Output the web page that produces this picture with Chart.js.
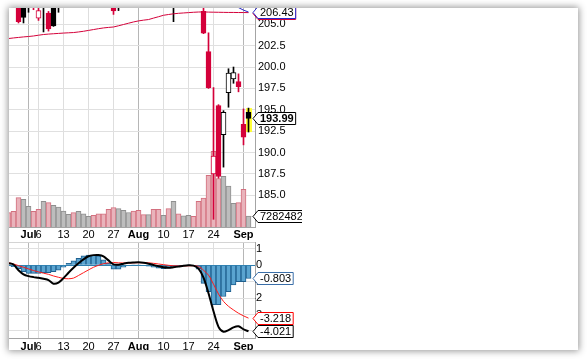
<!DOCTYPE html>
<html>
<head>
<meta charset="utf-8">
<title>SPY daily</title>
<script src="https://cdn.jsdelivr.net/npm/chart.js@4.4.1/dist/chart.umd.min.js"></script>
<style>
html, body { margin: 0; padding: 0; width: 587px; height: 359px; background: #fff; overflow: hidden; }
#panel { position: absolute; left: 9px; top: 8px; width: 569px; height: 342px; background: #fff; overflow: hidden;
  box-shadow: 0 0 7px 1px rgba(0, 0, 0, 0.42); }
#priceChart { position: absolute; left: 0; top: 0; }
#macdChart { position: absolute; left: 0; top: 234px; }
</style>
</head>
<body>
<div id="panel">
  <canvas id="priceChart" width="293" height="234"></canvas>
  <canvas id="macdChart" width="293" height="108"></canvas>
</div>
<script>
// trading days shown
var days = ['Jun 24', 'Jun 25', 'Jun 26', 'Jun 29', 'Jun 30', 'Jul 1', 'Jul 2', 'Jul 6', 'Jul 7', 'Jul 8',
    'Jul 9', 'Jul 10', 'Jul 13', 'Jul 14', 'Jul 15', 'Jul 16', 'Jul 17', 'Jul 20', 'Jul 21', 'Jul 22',
    'Jul 23', 'Jul 24', 'Jul 27', 'Jul 28', 'Jul 29', 'Jul 30', 'Jul 31', 'Aug 3', 'Aug 4', 'Aug 5',
    'Aug 6', 'Aug 7', 'Aug 10', 'Aug 11', 'Aug 12', 'Aug 13', 'Aug 14', 'Aug 17', 'Aug 18', 'Aug 19',
    'Aug 20', 'Aug 21', 'Aug 24', 'Aug 25', 'Aug 26', 'Aug 27', 'Aug 28', 'Aug 31', 'Sep 1', 'Sep 2'];

var tickDays = ['Jul 1', 'Jul 6', 'Jul 13', 'Jul 20', 'Jul 27', 'Aug 3', 'Aug 10', 'Aug 17', 'Aug 24', 'Sep 1'];
var tickText = ['Jul', '6', '13', '20', '27', 'Aug', '10', '17', '24', 'Sep'];

var opens = [208.3, 208.0, 207.6, 208.1, 207.9, 207.7, 207.6, 205.7, 207.0, 206.3,
    207.2, 207.3, 208.5, 209.8, 210.7, 211.6, 212.4, 212.9, 212.2, 211.1,
    211.3, 210.1, 207.5, 207.1, 209.1, 210.2, 211.2, 210.6, 209.6, 210.3,
    210.3, 208.2, 209.3, 209.0, 207.1, 208.7, 208.4, 208.7, 210.3, 209.1,
    206.5, 201.8, 187.5, 195.5, 192.1, 197.0, 198.6, 198.3, 193.3, 194.7];
var highs = [208.6, 208.3, 207.9, 209.8, 208.0, 208.2, 207.9, 207.1, 208.2, 206.5,
    207.3, 208.5, 209.9, 210.9, 211.3, 212.4, 212.6, 213.0, 212.4, 212.1,
    211.6, 210.3, 207.8, 209.3, 210.9, 211.2, 211.4, 210.8, 210.3, 211.3,
    210.4, 208.3, 210.7, 209.5, 209.0, 209.5, 209.5, 210.6, 210.7, 210.0,
    208.3, 204.0, 197.6, 195.6, 194.9, 199.8, 200.0, 199.2, 195.1, 195.2];
var lows = [207.5, 207.3, 207.1, 205.15, 205.15, 206.4, 206.7, 205.45, 204.1, 204.2,
    204.75, 206.4, 208.1, 209.4, 210.3, 211.4, 211.6, 212.3, 211.3, 210.9,
    209.7, 207.8, 206.15, 206.6, 208.8, 209.2, 210.3, 208.7, 208.9, 209.7,
    207.6, 207.1, 209.3, 207.8, 205.3, 207.9, 208.0, 207.9, 209.5, 207.0,
    203.9, 197.5, 182.2, 187.0, 188.3, 195.3, 198.1, 197.1, 190.9, 192.4];
var closes = [208.0, 207.6, 207.4, 205.3, 205.8, 207.5, 207.3, 206.6, 208.0, 204.45,
    204.8, 207.9, 209.8, 210.7, 210.6, 212.3, 212.5, 212.6, 211.7, 211.2,
    210.0, 207.9, 206.55, 209.2, 210.7, 210.9, 210.5, 209.9, 209.4, 210.1,
    208.4, 208.0, 210.6, 208.6, 208.7, 208.4, 209.2, 210.4, 209.9, 208.3,
    203.95, 197.6, 189.6, 187.2, 194.7, 199.3, 199.35, 197.7, 191.8, 193.99];
var volumes = [110000000, 96000000, 105000000, 197000000, 186000000, 139000000, 105000000, 119000000, 172000000, 163000000,
    145000000, 134000000, 107000000, 85000000, 96000000, 105000000, 89000000, 72000000, 78000000, 89000000,
    89000000, 119000000, 130000000, 123000000, 112000000, 97000000, 107000000, 112000000, 83000000, 83000000,
    119000000, 119000000, 78000000, 123000000, 172000000, 89000000, 74000000, 78000000, 72000000, 172000000,
    194000000, 346000000, 507000000, 325000000, 339000000, 274000000, 158000000, 163000000, 253000000, 72824824];

// moving averages on the price panel
var maRed = [203.25, 203.33, 203.4, 203.46, 203.52, 203.57, 203.63, 203.72, 203.8, 203.85,
    203.89, 203.93, 203.97, 204.0, 204.03, 204.1, 204.18, 204.28, 204.38, 204.48,
    204.57, 204.63, 204.68, 204.82, 204.97, 205.12, 205.27, 205.39, 205.48, 205.55,
    205.72, 205.88, 206.05, 206.14, 206.22, 206.28, 206.32, 206.36, 206.4, 206.43,
    206.44, 206.42, 206.41, 206.4, 206.39, 206.38, 206.38, 206.37, 206.37, 206.36];
var maBlue = [209.6, 209.5, 209.4, 209.3, 209.2, 209.1, 209.0, 208.9, 208.8, 208.7,
    208.6, 208.6, 208.6, 208.7, 208.8, 208.9, 209.0, 209.1, 209.2, 209.3,
    209.4, 209.4, 209.4, 209.5, 209.6, 209.7, 209.8, 209.8, 209.8, 209.8,
    209.7, 209.6, 209.5, 209.4, 209.3, 209.3, 209.3, 209.3, 209.3, 209.3,
    209.2, 209.0, 208.5, 208.1, 207.8, 207.6, 207.3, 206.95, 206.65, 206.43];

// MACD panel
var macd = [0.18, 0.12, 0.05, -0.3, -0.55, -0.66, -0.72, -0.76, -0.82, -0.9,
    -1.12, -1.05, -0.78, -0.45, -0.15, 0.12, 0.36, 0.55, 0.62, 0.63,
    0.55, 0.3, 0.06, 0.04, 0.1, 0.15, 0.17, 0.18, 0.16, 0.1,
    0.02, -0.06, -0.12, -0.15, -0.12, -0.08, -0.03, 0.0, -0.02, -0.2,
    -0.75, -1.7, -2.8, -3.75, -4.05, -3.95, -3.78, -3.72, -3.9, -4.021];
var signal = [0.2, 0.16, 0.08, -0.02, -0.12, -0.22, -0.32, -0.4, -0.48, -0.55,
    -0.65, -0.73, -0.8, -0.82, -0.78, -0.62, -0.45, -0.28, -0.12, 0.0,
    0.1, 0.15, 0.17, 0.15, 0.14, 0.14, 0.15, 0.16, 0.16, 0.15,
    0.12, 0.08, 0.04, 0.0, -0.03, -0.04, -0.04, -0.03, -0.03, -0.06,
    -0.3, -0.6, -1.15, -1.75, -2.2, -2.5, -2.72, -2.92, -3.08, -3.218];
var hist = [0, -0.03, -0.08, -0.2, -0.39, -0.49, -0.49, -0.49, -0.45, -0.45,
    -0.39, -0.29, -0.12, 0.12, 0.28, 0.43, 0.57, 0.63, 0.63, 0.57,
    0.33, 0.12, -0.24, -0.24, -0.12, -0.03, 0.02, 0.02, 0.0, -0.05,
    -0.12, -0.18, -0.2, -0.18, -0.12, -0.06, -0.02, 0.02, 0.0, -0.24,
    -1.1, -1.6, -2.4, -2.4, -1.9, -1.6, -1.2, -1.0, -1.0, -0.803];

var priceTicks = [182.5, 185, 187.5, 190, 192.5, 195, 197.5, 200, 202.5, 205];
var macdTicks = [1, 0, -1, -2, -3, -4];

var FONT = '"Liberation Sans", Arial, sans-serif';
var RED = '#d4003a';
var BLUE_MA = '#2828c8';
var X_MIN = 1.1, X_MAX = 50.3;
var last = days.length - 1;

var tickIdx = tickDays.map(function (d) { return days.indexOf(d); });
var monthIdx = tickIdx.filter(function (t, k) { return isNaN(Number(tickText[k])); });

function isDown(i) { return i > 0 && closes[i] < closes[i - 1]; }
var candleColor = closes.map(function (c, i) { return isDown(i) ? RED : '#000000'; });
var bodyFill = closes.map(function (c, i) { return c > opens[i] ? '#ffffff' : candleColor[i]; });
var volFill = closes.map(function (c, i) { return isDown(i) ? '#e9b3bb' : '#bdbdbd'; });
var volLine = closes.map(function (c, i) { return isDown(i) ? '#d3707f' : '#8f8f8f'; });

function pts(arr) { return arr.map(function (v, i) { return { x: i, y: v }; }); }

function xAxis(height, pad) {
    return {
        type: 'linear', min: X_MIN, max: X_MAX, offset: false,
        afterBuildTicks: function (s) { s.ticks = tickIdx.map(function (v) { return { value: v }; }); },
        afterFit: function (s) { s.height = height; s.paddingLeft = 0; s.paddingRight = 0; },
        grid: {
            offset: false, drawTicks: false,
            color: function (ctx) { return ctx.tick && monthIdx.indexOf(ctx.tick.value) >= 0 ? '#b6b6b6' : '#dedede'; }
        },
        border: { color: '#a4a4a4' },
        ticks: {
            autoSkip: false, maxRotation: 0, padding: pad, color: '#000',
            font: function (ctx) {
                var bold = ctx.tick && monthIdx.indexOf(ctx.tick.value) >= 0;
                return { family: FONT, size: 11, weight: bold ? 'bold' : 'normal' };
            },
            callback: function (v) { return tickText[tickIdx.indexOf(v)]; }
        }
    };
}

function drawTag(ctx, xTip, y, text, stroke, bold) {
    ctx.save();
    ctx.font = (bold ? 'bold ' : '') + '11px ' + FONT;
    var w = ctx.measureText(text).width + 4;
    var h = 12;
    var yy = Math.round(y) + 0.5;
    var x0 = xTip + 5;
    ctx.beginPath();
    ctx.moveTo(xTip, yy);
    ctx.lineTo(x0, yy - h / 2);
    ctx.lineTo(x0 + w, yy - h / 2);
    ctx.lineTo(x0 + w, yy + h / 2);
    ctx.lineTo(x0, yy + h / 2);
    ctx.closePath();
    ctx.fillStyle = '#ffffff';
    ctx.fill();
    ctx.strokeStyle = stroke;
    ctx.lineWidth = 1;
    ctx.stroke();
    ctx.fillStyle = '#000';
    ctx.textAlign = 'left';
    ctx.textBaseline = 'middle';
    ctx.fillText(text, x0 + 2, yy + 0.5);
    ctx.restore();
}

var priceTags = {
    id: 'priceTags',
    beforeDatasetsDraw: function (chart) {
        var x = chart.scales.x, y = chart.scales.y, ctx = chart.ctx;
        var px = Math.round(x.getPixelForValue(last));
        var top = y.getPixelForValue(highs[last]), bot = y.getPixelForValue(lows[last]);
        ctx.save();
        ctx.fillStyle = '#ffff38';
        ctx.fillRect(px - 3, top, 6, bot - top);
        ctx.restore();
    },
    afterDraw: function (chart) {
        var a = chart.chartArea, y = chart.scales.y, v = chart.scales.vol, ctx = chart.ctx;
        drawTag(ctx, a.right - 2, y.getPixelForValue(maRed[last]), maRed[last].toFixed(2), RED, false);
        drawTag(ctx, a.right - 2, y.getPixelForValue(maBlue[last]), maBlue[last].toFixed(2), BLUE_MA, false);
        drawTag(ctx, a.right - 2, y.getPixelForValue(closes[last]), closes[last].toFixed(2), '#000', true);
        drawTag(ctx, a.right - 2, v.getPixelForValue(volumes[last]), String(volumes[last]), '#000', false);
    }
};

new Chart(document.getElementById('priceChart'), {
    type: 'bar',
    data: {
        datasets: [
            { type: 'line', label: 'MA 2', data: pts(maBlue), yAxisID: 'y', borderColor: BLUE_MA, borderWidth: 1, pointRadius: 0, order: 0 },
            { type: 'line', label: 'MA 1', data: pts(maRed), yAxisID: 'y', borderColor: RED, borderWidth: 1, pointRadius: 0, order: 1 },
            {
                label: 'Body', yAxisID: 'y', order: 2,
                data: opens.map(function (o, i) { return { x: i, y: [o, closes[i]] }; }),
                backgroundColor: bodyFill, borderColor: candleColor, borderWidth: 1, borderSkipped: false,
                barThickness: 5, grouped: false
            },
            {
                label: 'Wick', yAxisID: 'y', order: 3,
                data: lows.map(function (l, i) { return { x: i, y: [l, highs[i]] }; }),
                backgroundColor: candleColor, borderWidth: 0, barThickness: 1, grouped: false
            },
            {
                label: 'Volume', yAxisID: 'vol', order: 4, data: pts(volumes),
                backgroundColor: volFill, borderColor: volLine, borderWidth: 1,
                barThickness: 5, grouped: false
            }
        ]
    },
    options: {
        responsive: false, animation: false, devicePixelRatio: 1,
        layout: { padding: 0 },
        plugins: { legend: { display: false }, tooltip: { enabled: false } },
        scales: {
            x: xAxis(15, 1),
            y: {
                position: 'right', min: 181.3, max: 206.9,
                afterBuildTicks: function (s) { s.ticks = priceTicks.map(function (v) { return { value: v }; }); },
                afterFit: function (s) { s.width = 47; s.paddingTop = 0; s.paddingBottom = 0; },
                grid: { color: '#e0e0e0', drawTicks: false },
                border: { color: '#a4a4a4' },
                ticks: { padding: 3, color: '#000', font: { family: FONT, size: 11 },
                    callback: function (v) { return v.toFixed(1); } }
            },
            vol: { display: false, position: 'right', min: 0, max: 1467000000 }
        }
    },
    plugins: [priceTags]
});

var macdTags = {
    id: 'macdTags',
    afterDraw: function (chart) {
        var a = chart.chartArea, y = chart.scales.y, ctx = chart.ctx;
        ctx.save();
        ctx.strokeStyle = '#d4d4d4';
        ctx.beginPath();
        ctx.moveTo(a.left, a.top + 0.5);
        ctx.lineTo(a.right, a.top + 0.5);
        ctx.stroke();
        ctx.restore();
        drawTag(ctx, a.right - 2, y.getPixelForValue(hist[last]), hist[last].toFixed(3), '#3a6ea8', false);
        drawTag(ctx, a.right - 2, y.getPixelForValue(signal[last]), signal[last].toFixed(3), '#ff0000', false);
        drawTag(ctx, a.right - 2, y.getPixelForValue(macd[last]), macd[last].toFixed(3), '#000', false);
    }
};

new Chart(document.getElementById('macdChart'), {
    type: 'bar',
    data: {
        datasets: [
            { type: 'line', label: 'MACD', data: pts(macd), borderColor: '#000', borderWidth: 2, pointRadius: 0, tension: 0.3, order: 0 },
            { type: 'line', label: 'Signal', data: pts(signal), borderColor: '#ff1a1a', borderWidth: 1, pointRadius: 0, tension: 0.3, order: 1 },
            {
                label: 'Histogram', data: pts(hist), order: 2,
                backgroundColor: '#5aa4d0', borderColor: '#1f5f8e', borderWidth: 1,
                barThickness: 5, grouped: false
            }
        ]
    },
    options: {
        responsive: false, animation: false, devicePixelRatio: 1,
        layout: { padding: { right: 40 } },
        plugins: { legend: { display: false }, tooltip: { enabled: false } },
        scales: {
            x: xAxis(12, 2),
            y: {
                position: 'right', min: -4.43, max: 1.42,
                afterBuildTicks: function (s) { s.ticks = macdTicks.map(function (v) { return { value: v }; }); },
                afterFit: function (s) { s.width = 7; s.paddingTop = 0; s.paddingBottom = 0; },
                grid: {
                    drawTicks: false,
                    color: function (ctx) { return ctx.tick && ctx.tick.value === 0 ? '#2e7fb0' : '#e0e0e0'; }
                },
                border: { color: '#a4a4a4' },
                ticks: { padding: -3, crossAlign: 'far', color: '#000', font: { family: FONT, size: 11 },
                    callback: function (v) { return String(v); } }
            }
        }
    },
    plugins: [macdTags]
});
</script>
</body>
</html>
